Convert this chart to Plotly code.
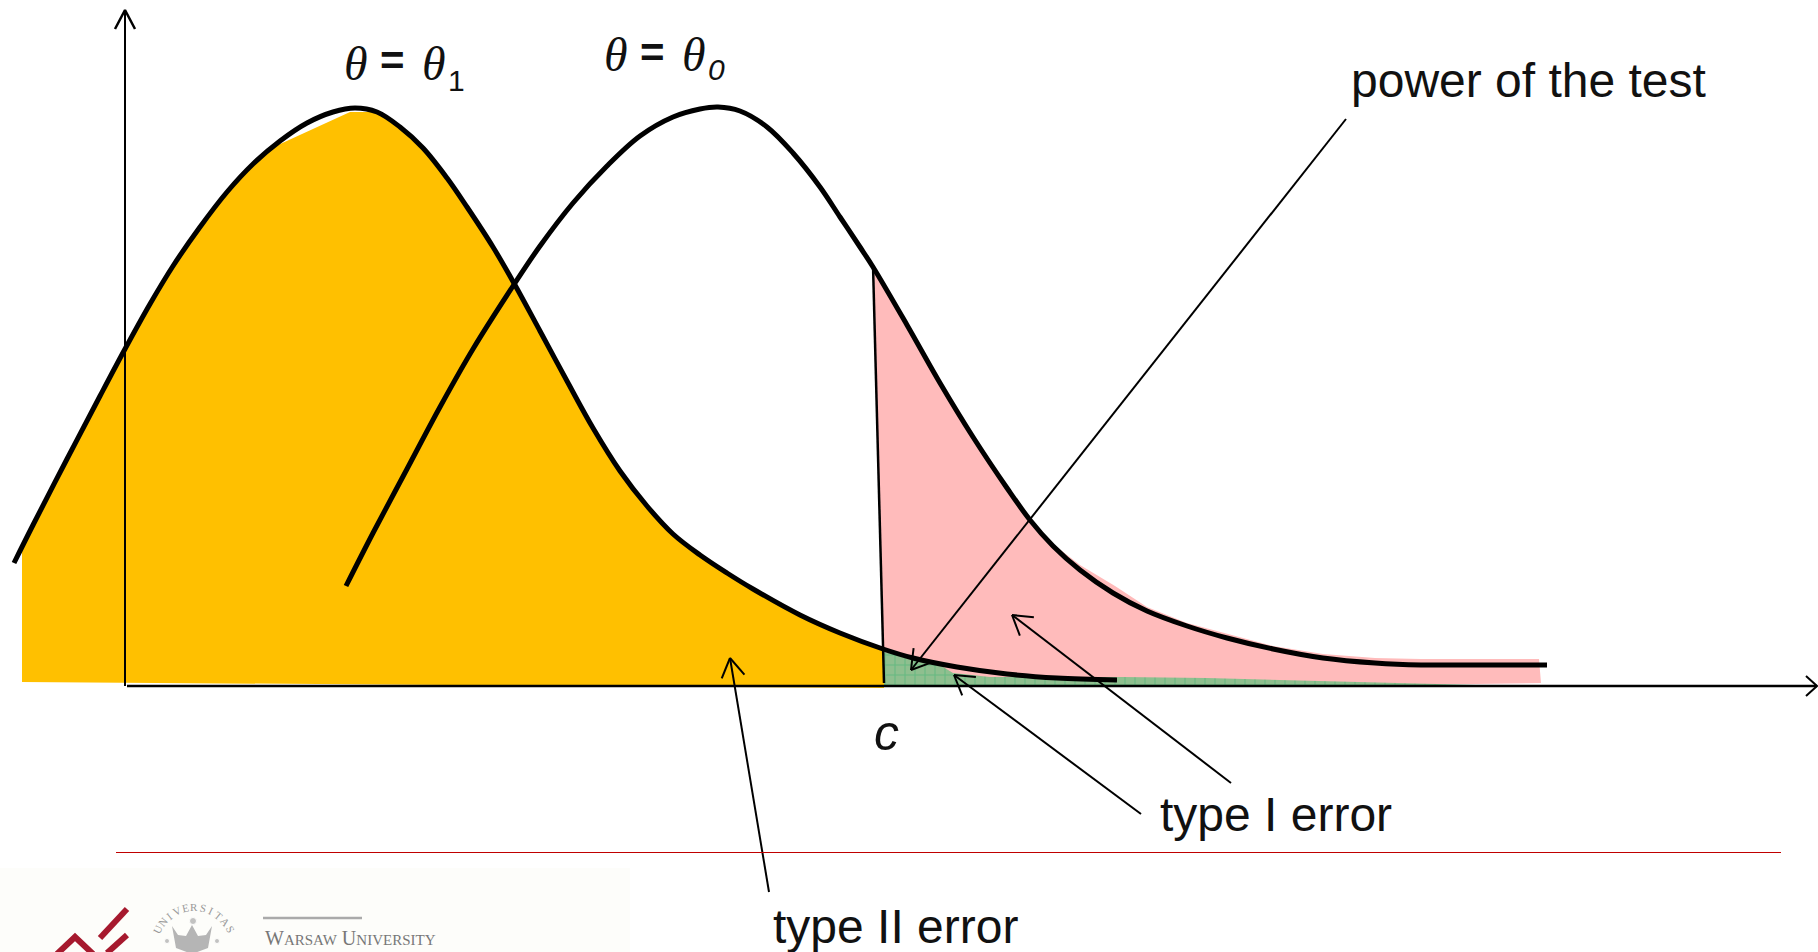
import math
import plotly.graph_objects as go

# Curves (chart units = reference pixels)
curve1_x = [14,33,67,100,125,150,173,200,227,253,280,307,333,355,377,400,423,447,467,493,515,540,567,593,620,647,673,700,727,753,800,840,883,913,957,1007,1057,1117]
curve1_y = [563,525,459,396,349,304,266,227,192,164,141,123,112,108,112,127,148,178,207,247,285,331,381,428,471,506,534,555,573,589,615,633,649,658,667,674,678,680]
curve0_x = [346,373,407,440,473,515,540,573,607,640,673,700,718,740,767,793,820,840,860,873,907,940,973,1007,1030,1053,1080,1113,1147,1187,1227,1273,1323,1375,1421,1460,1547]
curve0_y = [586,533,469,407,349,283,246,203,166,136,117,109,107,111,127,153,187,217,247,267,325,383,437,488,520,546,570,593,611,626,638,649,658,663,665,665,665]

orange_x = [22,22,33,67,100,125,150,173,200,227,253,278,350,377,400,423,447,467,493,515,540,567,593,620,647,673,700,727,753,800,840,884,884,22]
orange_y = [682,548,525,459,396,349,304,266,227,192,164,145,112,112,127,148,178,207,247,285,331,381,428,471,506,534,555,573,589,615,633,650,688,682]
pink_x = [874,907,940,973,1007,1030,1053,1080,1115,1147,1187,1227,1273,1323,1375,1421,1460,1539,1541,1476,884]
pink_y = [270,325,383,437,488,519,544,565,586,607,623,634,646,654,658,659,659,659,683,684,684]
green_x = [884,913,940,953,990,1057,1123,1207,1360,1476,884]
green_y = [652,658,665,673,677,677,677,678,682,685,686]

# Straight rules and arrows
y_axis_x = [125,125]; y_axis_y = [686,12]
y_head_x = [115,125,135]; y_head_y = [29,10,29]
x_axis_x = [127,1817]; x_axis_y = [686,686]
x_head_x = [1806,1817,1806]; x_head_y = [676,686,696]
c_line_x = [873,884]; c_line_y = [265,683]
rule_x = [116,1781]; rule_y = [852.5,852.5]
arrow_power = ((1346,119),(911,670))
arrow_t1a = ((1231,783),(1012,615))
arrow_t1b = ((1141,814),(954,675))
arrow_t2 = ((769,892),(730,658))

labels = [
    ("power of the test", 1349, 80, 48),
    ("type I error", 1158, 814, 48),
    ("type II error", 771, 926, 48),
]
theta_labels = [("<i>θ</i>", 356, 63), ("<i>θ</i>", 434, 63), ("<i>θ</i>", 616, 54), ("<i>θ</i>", 694, 54)]
equals_labels = [("=", 392, 60), ("=", 652, 52)]
sub_labels = [("1", 456, 80), ("<i>0</i>", 716, 69)]
brand_name = "W<span style='font-size:15px'>ARSAW</span> U<span style='font-size:15px'>NIVERSITY</span>"
seal_text = "UNIVERSITAS"
eagle_x = [172,178,186,192,198,206,212,208,192,176]
eagle_y = [926,935,936,925,936,935,926,948,954,948]

fig = go.Figure()
def poly(x, y, color):
    fig.add_trace(go.Scatter(x=x, y=y, mode="lines", fill="toself", fillcolor=color,
                             line=dict(width=0, color=color), hoverinfo="skip"))
def line(x, y, w=2, color="black", shape="linear"):
    fig.add_trace(go.Scatter(x=x, y=y, mode="lines", hoverinfo="skip",
                             line=dict(width=w, color=color, shape=shape, simplify=False)))
def arrow(seg, w=2, head=22):
    (x0,y0),(x1,y1) = seg
    line([x0,x1],[y0,y1],w)
    a = math.atan2(y0-y1, x0-x1)
    for d in (0.55,-0.55):
        line([x1, x1+head*math.cos(a+d)],[y1, y1+head*math.sin(a+d)],w)

fig.add_shape(type="rect", x0=0, x1=630, y0=868, y1=952, fillcolor="#fdfdfa", line_width=0, layer="below")

poly(orange_x, orange_y, "#FFC000")
poly(pink_x, pink_y, "#FFBBBB")
fig.add_trace(go.Scatter(x=green_x, y=green_y, mode="lines", fill="toself", hoverinfo="skip",
    fillcolor="#8CBF8C", line=dict(width=0),
    fillpattern=dict(shape="+", size=10, solidity=0.2, fgcolor="#3CB371", bgcolor="#8FBF8F")))

line(y_axis_x, y_axis_y, 2)
line(y_head_x, y_head_y, 2.5)
line(x_axis_x, x_axis_y, 2.5)
line(x_head_x, x_head_y, 2)
line(c_line_x, c_line_y, 2.5)
line(curve1_x, curve1_y, 5, shape="spline")
line(curve0_x, curve0_y, 5, shape="spline")
for seg in (arrow_power, arrow_t1a, arrow_t1b, arrow_t2):
    arrow(seg)
line(rule_x, rule_y, 1, "#C00000")

def text(s, x, y, size, family="Liberation Sans", color="#111", anchor="left"):
    fig.add_annotation(x=x, y=y, text=s, showarrow=False, xanchor=anchor, yanchor="middle",
                       font=dict(family=family, size=size, color=color))

for s, x, y, sz in labels:
    text(s, x, y, sz)
text("<i>c</i>", 872, 733, 50)
for s, x, y in theta_labels:
    text(s, x, y, 48, "Liberation Serif", anchor="center")
for s, x, y in equals_labels:
    text("<b>"+s+"</b>", x, y, 42, anchor="center")
for s, x, y in sub_labels:
    text(s, x, y, 30, anchor="center")

# logo
RED = "#A6192E"
line([57,75,93],[954,937,954], 6, RED)
line([100,127],[938,909], 6, RED)
line([107,127],[953,935], 6, RED)
line([263,362],[918,918], 2.5, "#AAAAAA")
text(brand_name, 263, 938, 20, "Liberation Serif", "#777777")
for i, ch in enumerate(seal_text):
    ang = math.radians(-64 + i * 128 / (len(seal_text) - 1))
    fig.add_annotation(x=194 + 40*math.sin(ang), y=947 - 40*math.cos(ang), text=ch, showarrow=False,
                       textangle=math.degrees(ang), font=dict(family="Liberation Serif", size=11, color="#999999"))
poly(eagle_x, eagle_y, "#B5B5B5")
fig.add_trace(go.Scatter(x=[193,167,217], y=[921,941,941], mode="markers",
                         marker=dict(size=[7,5,5], color="#AAAAAA"), hoverinfo="skip"))

fig.update_layout(width=1818, height=952, margin=dict(l=0,r=0,t=0,b=0), showlegend=False,
    paper_bgcolor="white", plot_bgcolor="white",
    xaxis=dict(range=[0,1818], visible=False, fixedrange=True),
    yaxis=dict(range=[952,0], visible=False, fixedrange=True))
fig.write_html("out.html", config={"displayModeBar": False},
    post_script="document.body.style.margin='0';document.body.style.overflow='hidden';")
